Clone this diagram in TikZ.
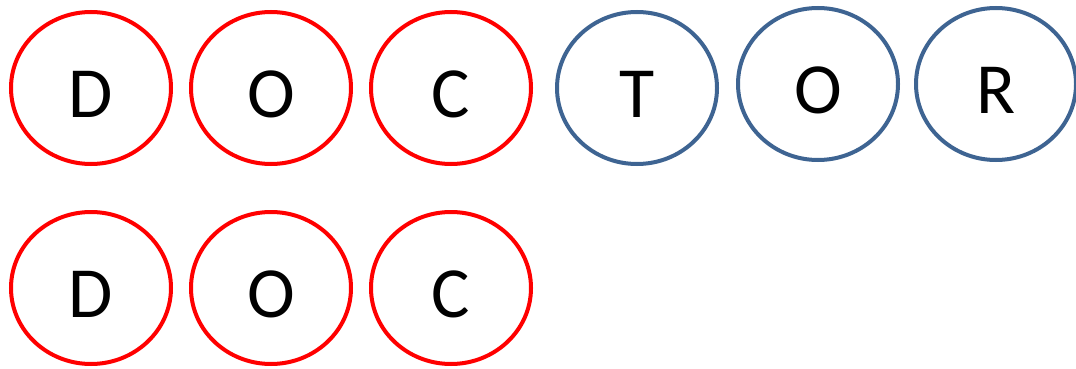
\documentclass[tikz,border=0pt]{standalone}
\usepackage{fontspec}
\setmainfont{Carlito}
\usetikzlibrary{shapes.geometric}
\definecolor{ringred}{RGB}{255,0,0}
\definecolor{ringblue}{RGB}{62,100,146}
\tikzset{
  ring/.style={ellipse, draw, line width=4pt, minimum width=160pt, minimum height=152pt, inner sep=0pt,
    font=\fontsize{72}{72}\selectfont, text height=58pt, text depth=0pt},
  redring/.style={ring, draw=ringred},
  bluering/.style={ring, draw=ringblue},
}
\begin{document}
\begin{tikzpicture}[x=1pt,y=1pt]
\useasboundingbox (0,0) rectangle (1076,-369);
\node[redring]  (d1) at (91,-88)  {D};
\node[redring]  (o1) at (271,-88) {O};
\node[redring]  (c1) at (451,-88) {C};
\node[bluering] (t1) at (637,-88) {T};
\node[bluering] (o2) at (818,-84) {O};
\node[bluering] (r1) at (996,-84) {R};
\node[redring]  (d2) at (91,-288)  {D};
\node[redring]  (o3) at (271,-288) {O};
\node[redring]  (c2) at (451,-288) {C};
\end{tikzpicture}
\end{document}
